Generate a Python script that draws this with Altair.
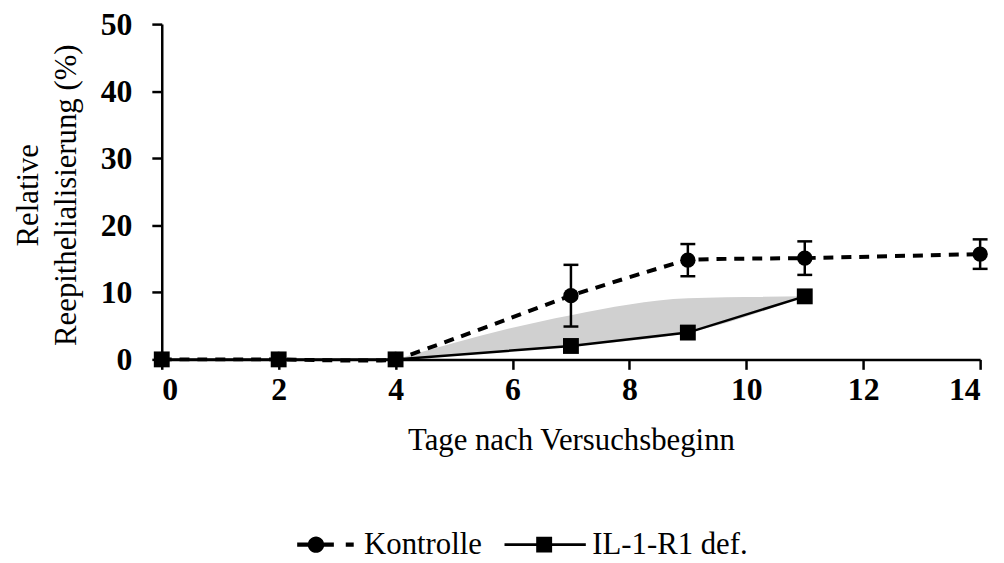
import altair as alt
import pandas as pd

# ---- data ----
days = [0, 2, 4, 7, 9, 11, 14]
kontrolle = [0, 0, 0, 9.5, 14.8, 15.1, 15.7]
kontrolle_err = [0, 0, 0, 4.6, 2.4, 2.5, 2.2]

il_days = [0, 2, 4, 7, 9, 11]
il_values = [0, 0, 0, 2.0, 4.0, 9.4]

shade_days = [4, 7, 9, 11]
shade_top = [0, 6.6, 9.1, 9.4]
shade_bottom = [0, 2.0, 4.0, 9.4]

series = ["Kontrolle", "IL-1-R1 def."]
x_ticks = [0, 2, 4, 6, 8, 10, 12, 14]
y_ticks = [0, 10, 20, 30, 40, 50]

FONT = "Liberation Serif"

k_df = pd.DataFrame({"day": days, "value": kontrolle, "err": kontrolle_err})
k_df["lo"] = k_df["value"] - k_df["err"]
k_df["hi"] = k_df["value"] + k_df["err"]
err_df = k_df[k_df["err"] > 0]
il_df = pd.DataFrame({"day": il_days, "value": il_values})
shade_df = pd.DataFrame({"day": shade_days, "top": shade_top, "bottom": shade_bottom})
leg_df = pd.DataFrame({"series": series})

xs = alt.Scale(domain=[0, 14], nice=False)
ys = alt.Scale(domain=[0, 50], nice=False)

x_axis = alt.Axis(values=x_ticks, title="Tage nach Versuchsbeginn", labelPadding=5,
                  titleY=67, titleBaseline="top")
y_axis = alt.Axis(values=y_ticks, title=["Relative", "Reepithelialisierung (%)"],
                  labelPadding=20, titleX=-118, titleY=172, titleAngle=270,
                  titleBaseline="bottom", titleAlign="center", titleLineHeight=38)

X = alt.X("day:Q", scale=xs, axis=x_axis)
Y = alt.Y("value:Q", scale=ys, axis=y_axis)

shade = alt.Chart(shade_df).mark_area(color="#d0d0d0", interpolate="monotone").encode(
    x=alt.X("day:Q", scale=xs, axis=x_axis),
    y=alt.Y("top:Q", scale=ys, axis=y_axis),
    y2="bottom:Q",
)

il_line = alt.Chart(il_df).mark_line(color="black", strokeWidth=2.5).encode(x=X, y=Y)
il_pts = alt.Chart(il_df).mark_point(shape="square", filled=True, color="black",
                                     size=256, opacity=1).encode(x=X, y=Y)

k_line = alt.Chart(k_df).mark_line(color="black", strokeWidth=4, strokeDash=[10, 8],
                                   interpolate="cardinal", tension=0.75).encode(x=X, y=Y)
k_rule = alt.Chart(err_df).mark_rule(color="black", strokeWidth=2.5).encode(
    x=X, y=alt.Y("lo:Q", scale=ys, axis=y_axis), y2="hi:Q")
k_cap_lo = alt.Chart(err_df).mark_tick(color="black", orient="horizontal", size=15,
                                       thickness=2.5, opacity=1).encode(
    x=X, y=alt.Y("lo:Q", scale=ys, axis=y_axis))
k_cap_hi = alt.Chart(err_df).mark_tick(color="black", orient="horizontal", size=15,
                                       thickness=2.5, opacity=1).encode(
    x=X, y=alt.Y("hi:Q", scale=ys, axis=y_axis))
k_pts = alt.Chart(k_df).mark_point(shape="circle", filled=True, color="black",
                                   size=240, opacity=1).encode(x=X, y=Y)

# legend symbols: dashed line with circle, solid line with square (unit = sqrt(size)/2)
path_k = ("M-2.53,-0.3H-0.9V0.3H-2.53Z "
          "M1.1,0A1.1,1.1 0 1,1 -1.1,0A1.1,1.1 0 1,1 1.1,0Z "
          "M0.9,-0.3H2.4V0.3H0.9Z "
          "M4,-0.3H5.07V0.3H4Z")
path_il = ("M-5.33,-0.17H5.6V0.17H-5.33Z "
           "M-1.07,-1.07H1.07V1.07H-1.07Z")

legend_layer = alt.Chart(leg_df).mark_point(filled=True, color="black", opacity=0).encode(
    x=alt.value(0), y=alt.value(0),
    shape=alt.Shape("series:N",
                    scale=alt.Scale(domain=series, range=[path_k, path_il]),
                    legend=alt.Legend(title=None, orient="none", direction="horizontal",
                                      legendX=140, legendY=509,
                                      symbolSize=225, symbolOpacity=1,
                                      symbolFillColor="black", symbolStrokeColor="black",
                                      symbolStrokeWidth=0,
                                      labelFont=FONT, labelFontSize=31, labelColor="black",
                                      labelOffset=33, columnPadding=22,
                                      labelLimit=400)),
)

chart = alt.layer(shade, il_line, il_pts, k_line, k_rule, k_cap_lo, k_cap_hi, k_pts,
                  legend_layer).properties(
    width=825, height=338,
    autosize=alt.AutoSizeParams(type="none"),
    padding={"left": 155, "top": 14, "right": 16, "bottom": 200},
    background="white",
).configure_view(strokeWidth=0).configure_axis(
    grid=False,
    domainColor="black", domainWidth=2.5,
    tickColor="black", tickWidth=2.5, tickSize=10,
    labelFont=FONT, labelFontWeight="bold", labelFontSize=32, labelColor="black",
    titleFont=FONT, titleFontWeight="normal", titleFontSize=31, titleColor="black",
)

chart.save("out.html", embed_options={"renderer": "svg", "actions": False})
